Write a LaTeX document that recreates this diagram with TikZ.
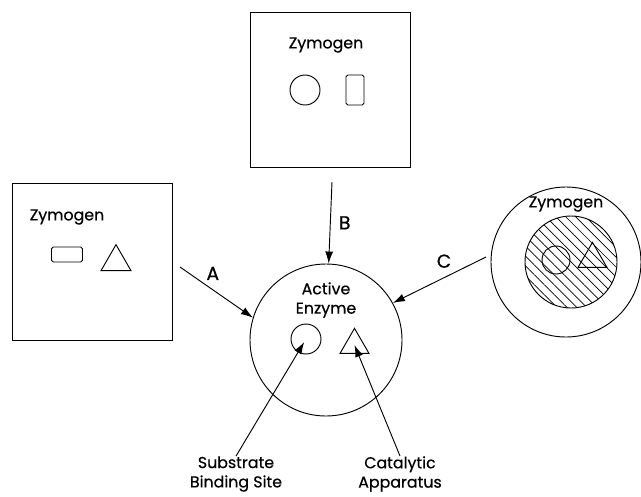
\documentclass[tikz,border=0pt]{standalone}
\usepackage{fontspec}
\setmainfont{Poppins}[FakeBold=0.5]
\usetikzlibrary{arrows.meta,shapes.geometric,patterns.meta}
\tikzstyle{zbox}=[rectangle,draw,thick,inner sep=0pt]
\tikzstyle{zcirc}=[circle,draw,thick,inner sep=0pt]
\tikzstyle{site}=[circle,draw,thick,inner sep=0pt,minimum size=0.9cm]
\tikzstyle{cat}=[regular polygon,regular polygon sides=3,draw,thick,inner sep=0pt,minimum size=1.04cm]
\tikzstyle{rod}=[rectangle,draw,thick,rounded corners=1.5pt,inner sep=0pt]
\tikzstyle{txt}=[font=\fontsize{13.5}{16.5}\selectfont,align=center,inner sep=0pt]
\tikzstyle{tag}=[font=\fontsize{16}{18}\selectfont,inner sep=0pt]

\begin{document}
\begin{tikzpicture}[x=0.03cm,y=-0.03cm,>={Latex[length=3.6mm,width=2.4mm]}]
            \useasboundingbox (0,0) rectangle (641,496);

            % ZYMOGEN B (top)
            \node[zbox,minimum width=4.8cm,minimum height=4.65cm] (zb) at (330,89.5) {};
            \node[txt] (zbl) at (326,45) {Zymogen};
            \node[site] (zbs) at (305,90) {};
            \node[rod,minimum width=0.54cm,minimum height=0.9cm] (zbr) at (355,90) {};

            % ZYMOGEN A (left)
            \node[zbox,minimum width=4.8cm,minimum height=4.71cm] (za) at (92,261.5) {};
            \node[txt] (zal) at (67,217) {Zymogen};
            \node[rod,minimum width=0.93cm,minimum height=0.45cm] (zar) at (67,254.5) {};
            \node[cat] (zat) at (116,262) {};

            % ZYMOGEN C (right)
            \node[zcirc,minimum size=4.5cm] (zc) at (566,262) {};
            \node[zcirc,minimum size=2.76cm,pattern={Lines[angle=-45,distance=6pt,line width=0.6pt]}] (zci) at (571,262) {};
            \node[txt] (zcl) at (566,204) {Zymogen};
            \node[site,minimum size=0.84cm] (zcs) at (556,260) {};
            \node[cat,minimum size=1.0cm] (zct) at (592.5,259) {};

            % ACTIVE ENZYME
            \node[zcirc,minimum size=4.56cm] (ae) at (326,340) {};
            \node[txt] (ael) at (326,300) {Active\\Enzyme};
            \node[site] (aes) at (306,339) {};
            \node[cat,minimum size=1.0cm] (aet) at (354.5,345) {};

            \node[txt] (sbs) at (236,474) {Substrate\\Binding Site};
            \node[txt] (cap) at (400,474) {Catalytic\\Apparatus};

            % Conversions
            \coordinate (a0) at (180,267);
            \coordinate (b0) at (332,182);
            \coordinate (c0) at (486,257);
            \draw[->,thick] (a0) -- node[tag,above=8pt,pos=0.45] {A} (ae.163);
            \draw[->,thick] (b0) -- node[tag,right=7pt] {B} (ae.88);
            \draw[->,thick] (c0) -- node[tag,above=8pt,pos=0.45] {C} (ae.29);

            % Leaders
            \draw[->,thick,shorten >=3pt] (sbs.north) -- (aes.center);
            \draw[->,thick] (cap.north) -- (aet.center);

        \end{tikzpicture}
\end{document}
